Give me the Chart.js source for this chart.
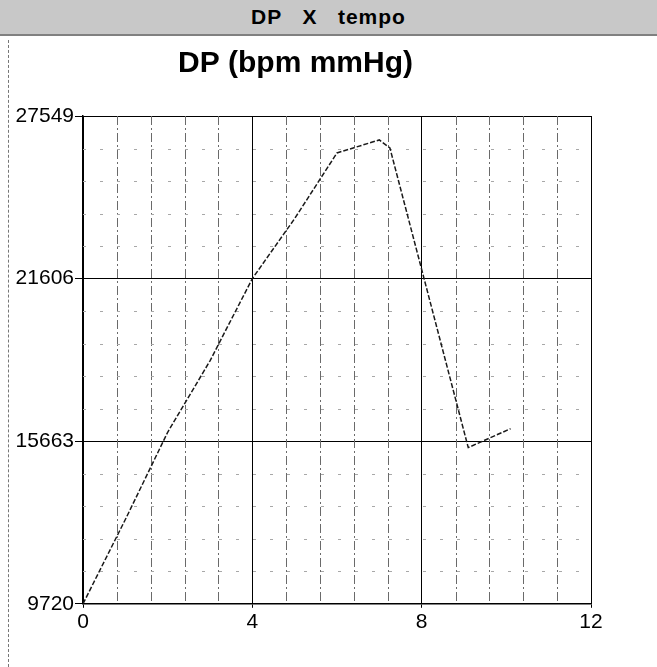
<!DOCTYPE html>
<html>
<head>
<meta charset="utf-8">
<script src="https://cdn.jsdelivr.net/npm/chart.js@4.4.1/dist/chart.umd.min.js"></script>
<style>
  html, body { margin: 0; padding: 0; background: #fff; }
  #wrap { position: relative; width: 657px; height: 667px; overflow: hidden; }
  #banner {
    position: absolute; left: 0; top: 0; width: 657px; height: 34px;
    background: #c8c8c8; border-bottom: 2px solid #808080;
    font: bold 21px "Liberation Sans", Arial, sans-serif; color: #000;
    letter-spacing: 1px; text-align: center; line-height: 34px; white-space: pre;
  }
  #edge { position: absolute; left: 8px; top: 40px; height: 627px; border-left: 1px dashed #777; }
  canvas { position: absolute; left: 0; top: 0; }
</style>
</head>
<body>
<div id="wrap">
  <canvas id="dpChart" width="657" height="667"></canvas>
  <div id="banner">DP   X   tempo</div>
  <div id="edge"></div>
</div>
<script>
// time (min) and DP values
const timeMin = [0, 1, 2, 3, 4, 5, 6, 7, 7.25, 9.1, 10.1];
const dpValues = [9720, 12800, 15990, 18600, 21606, 23800, 26200, 26674, 26380, 15430, 16120];

const xTicks = [0, 4, 8, 12];
const yTicks = [9720, 15663, 21606, 27549];
const xMinorStep = 0.8;
const yMinorStep = (27549 - 9720) / 15;

// dashed minor grid, drawn through the scales
const minorGrid = {
  id: "minorGrid",
  beforeDatasetsDraw(chart) {
    const { ctx, chartArea: a, scales: { x, y } } = chart;
    ctx.save();
    ctx.lineWidth = 1;
    ctx.strokeStyle = "#6a6a6a";
    ctx.setLineDash([9, 3, 2, 3]);
    for (let v = xMinorStep; v < 12 - 0.01; v += xMinorStep) {
      if (Math.abs(v / 4 - Math.round(v / 4)) < 0.01) continue;
      const px = Math.round(x.getPixelForValue(v)) + 0.5;
      ctx.beginPath(); ctx.moveTo(px, a.top); ctx.lineTo(px, a.bottom); ctx.stroke();
    }
    ctx.strokeStyle = "#a8a8a8";
    ctx.setLineDash([3, 14]);
    for (let i = 1; i < 15; i++) {
      if (i % 5 === 0) continue;
      const py = Math.round(y.getPixelForValue(9720 + i * yMinorStep)) + 0.5;
      ctx.beginPath(); ctx.moveTo(a.left, py); ctx.lineTo(a.right, py); ctx.stroke();
    }
    ctx.restore();
  }
};

new Chart(document.getElementById("dpChart").getContext("2d"), {
  type: "line",
  data: {
    datasets: [{
      data: timeMin.map((t, i) => ({ x: t, y: dpValues[i] })),
      borderColor: "#1a1a1a",
      borderWidth: 1.5,
      borderDash: [5, 2],
      pointRadius: 0,
      tension: 0,
      fill: false,
    }],
  },
  options: {
    responsive: false,
    animation: false,
    layout: { padding: { top: 36, right: 66, bottom: 30, left: 0 } },
    plugins: {
      legend: { display: false },
      tooltip: { enabled: false },
      title: {
        display: true,
        text: "DP (bpm mmHg)",
        color: "#000",
        font: { family: "Liberation Sans, Arial, sans-serif", size: 30, weight: "bold" },
        padding: { top: 10, bottom: 34 },
      },
    },
    scales: {
      x: {
        type: "linear",
        min: 0,
        max: 12,
        afterBuildTicks: s => { s.ticks = xTicks.map(v => ({ value: v })); },
        ticks: {
          color: "#000",
          padding: 2,
          maxRotation: 0,
          font: { family: "Liberation Sans, Arial, sans-serif", size: 21 },
        },
        grid: { color: "#000", lineWidth: 1, tickLength: 4 },
        border: { color: "#000", width: 1.5 },
      },
      y: {
        type: "linear",
        min: 9720,
        max: 27549,
        afterBuildTicks: s => { s.ticks = yTicks.map(v => ({ value: v })); },
        afterFit: s => { s.width = 83; },
        ticks: {
          color: "#000",
          padding: 1,
          font: { family: "Liberation Sans, Arial, sans-serif", size: 21 },
          callback: v => String(v),
        },
        grid: { color: "#000", lineWidth: 1, tickLength: 8 },
        border: { color: "#000", width: 1.5 },
      },
    },
  },
  plugins: [minorGrid],
});
</script>
</body>
</html>
